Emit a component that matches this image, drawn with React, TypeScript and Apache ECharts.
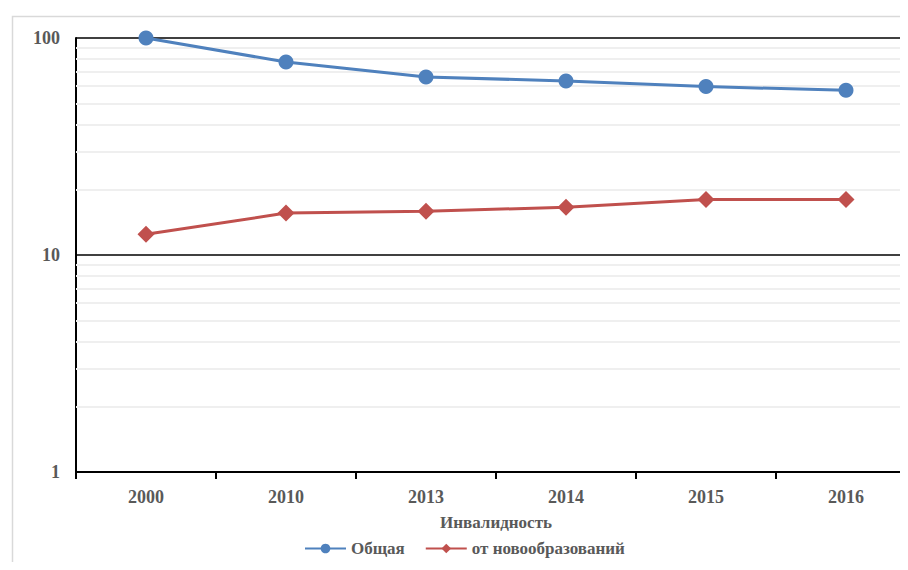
import React, { useEffect, useRef } from "react";
import * as echarts from "echarts";

const years = ["2000", "2010", "2013", "2014", "2015", "2016"];
const totalValues = [100, 77.5, 66.1, 63.4, 59.7, 57.4];
const neoplasmValues = [12.45, 15.6, 15.9, 16.6, 18.0, 18.0];
const minorGridValues = [2, 3, 4, 5, 6, 7, 8, 9, 20, 30, 40, 50, 60, 70, 80, 90];

const FONT = "'Liberation Serif', 'Times New Roman', serif";
const GRAY = "#595959";

export default function App() {
  const ref = useRef<HTMLDivElement>(null);
  useEffect(() => {
    if (!ref.current) return;
    const chart = echarts.init(ref.current, undefined, { renderer: "svg" });
    chart.setOption({
      animation: false,
      backgroundColor: "#ffffff",
      graphic: [
        {
          type: "rect",
          left: 10,
          top: 14,
          shape: { width: 1000, height: 1000 },
          style: { fill: "none", stroke: "#d9d9d9", lineWidth: 1.5 },
          silent: true,
          z: -10,
        },
      ],
      grid: { left: 76, top: 38, width: 840, height: 434, containLabel: false },
      legend: {
        data: [
          { name: "Общая" },
          { name: "от новообразований" },
        ],
        top: 535,
        left: 299,
        itemWidth: 41,
        itemHeight: 12,
        itemGap: 20,
        textStyle: { fontFamily: FONT, fontWeight: "bold", fontSize: 17, color: GRAY },
      },
      xAxis: {
        type: "category",
        data: years,
        boundaryGap: true,
        name: "Инвалидность",
        nameLocation: "middle",
        nameGap: 42,
        nameTextStyle: { fontFamily: FONT, fontWeight: "bold", fontSize: 17, color: GRAY },
        axisLine: { lineStyle: { color: "#000000", width: 2 } },
        axisTick: { show: true, length: 7, lineStyle: { color: "#000000", width: 2 } },
        axisLabel: { fontFamily: FONT, fontWeight: "bold", fontSize: 18, color: GRAY, margin: 16 },
        splitLine: { show: false },
      },
      yAxis: {
        type: "log",
        logBase: 10,
        min: 1,
        max: 100,
        axisLine: { show: true, lineStyle: { color: "#000000", width: 2 } },
        axisTick: { show: false },
        axisLabel: { fontFamily: FONT, fontWeight: "bold", fontSize: 18, color: GRAY, margin: 16 },
        splitLine: { show: true, lineStyle: { color: "#000000", width: 1.5 } },
      },
      series: [
        {
          name: "Общая",
          type: "line",
          data: totalValues,
          z: 3,
          symbol: "circle",
          symbolSize: 15,
          lineStyle: { color: "#4F81BD", width: 3 },
          itemStyle: { color: "#4F81BD" },
          markLine: {
            silent: true,
            z: 1,
            symbol: ["none", "none"],
            label: { show: false },
            lineStyle: { color: "#efefef", width: 2, type: "solid" },
            data: minorGridValues.map((v) => ({ yAxis: v })),
          },
        },
        {
          name: "от новообразований",
          type: "line",
          data: neoplasmValues,
          z: 3,
          symbol: "diamond",
          symbolSize: 17,
          lineStyle: { color: "#C0504D", width: 3 },
          itemStyle: { color: "#C0504D" },
        },
      ],
    });
    return () => chart.dispose();
  }, []);
  return (
    <div style={{ width: 908, height: 570, margin: -8, overflow: "hidden", position: "relative" }}>
      <div ref={ref} style={{ width: 930, height: 570 }} />
    </div>
  );
}
